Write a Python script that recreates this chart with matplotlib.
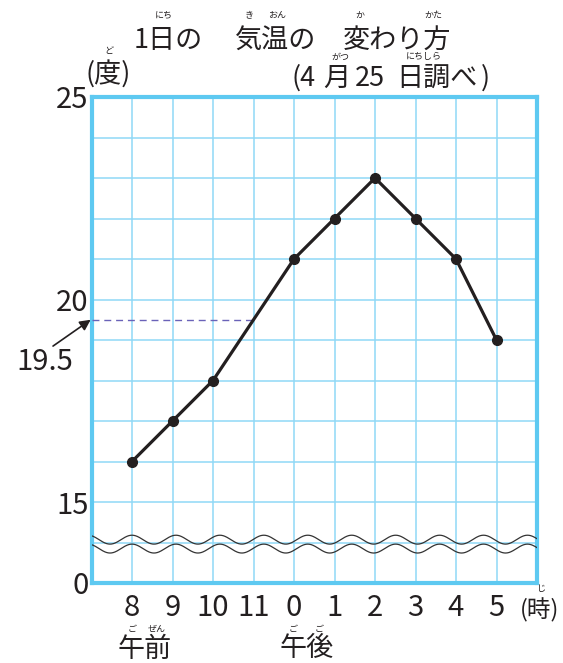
import numpy as np
import matplotlib
matplotlib.use("Agg")
import matplotlib.pyplot as plt

plt.rcParams['font.family'] = ['Noto Sans CJK JP', 'DejaVu Sans']

W, H = 563, 663

## data (hours from 8 in the morning to 5 in the afternoon)
hour_labels = ['8', '9', '10', '11', '0', '1', '2', '3', '4', '5']
temps = [16, 17, 18, 19.5, 21, 22, 23, 22, 21, 19]
measured = [True, True, True, False, True, True, True, True, True, True]

y_ticks = [13, 15, 20, 25]          # 13 stands for the broken-axis "0"
y_tick_labels = ['0', '15', '20', '25']
read_value = 19.5
read_hour = 3

ink = '#231f20'
grid_c = '#8fd9f6'
frame_c = '#5ec9f1'

def fx(px):
    return px / W

def fy(py):
    return 1 - py / H

fig = plt.figure(figsize=(W / 100, H / 100), dpi=100)
ax = fig.add_axes([fx(91.5), fy(583), (537 - 91.5) / W, (583 - 97) / H])

xs = np.arange(len(hour_labels))
ax.set_xlim(-1, len(hour_labels))
ax.set_ylim(13, 25)

ax.set_xticks(xs, hour_labels)
ax.set_yticks(y_ticks, y_tick_labels)
ax.set_yticks(np.arange(14, 25), minor=True)
# grid: major + minor (minor ticks that sit on a major tick are dropped)
ax.grid(which='both', color=grid_c, linewidth=1.1)
ax.set_axisbelow(True)

ax.tick_params(which='both', length=0)
ax.tick_params(axis='y', pad=2, labelsize=21, labelcolor=ink)
ax.tick_params(axis='x', pad=7, labelsize=21, labelcolor=ink)
for s in ax.spines.values():
    s.set_color(frame_c)
    s.set_linewidth(3)

# broken-axis wave marks
wx = np.linspace(-1, len(hour_labels), 800)
wave = 0.11 * np.cos(2 * np.pi * wx / 1.085)
ax.plot(wx, 14.07 + wave, color='#333333', lw=0.9, zorder=3)
ax.plot(wx, 13.85 + wave, color='#333333', lw=0.9, zorder=3)

# temperature line
ax.plot(xs, temps, color=ink, lw=2.3, zorder=4, solid_capstyle='round')
mx = [x for x, m in zip(xs, measured) if m]
my = [t for t, m in zip(temps, measured) if m]
ax.plot(mx, my, 'o', color=ink, ms=7, zorder=5)

# reading at 11 o'clock
ax.plot([-1, read_hour], [read_value, read_value], color='#6a62b8', lw=1,
        dashes=(5, 3.5), zorder=3)
ax.annotate('', xy=(-1.02, read_value), xytext=(-1.95, 18.85),
            arrowprops=dict(arrowstyle='-|>', color=ink, lw=1.2,
                            mutation_scale=16, shrinkA=0, shrinkB=0),
            annotation_clip=False)
fig.text(fx(45), fy(362), str(read_value), fontsize=21, color=ink,
         ha='center', va='center')

def txt(x, y, s, size=19.5, ha='left'):
    fig.text(fx(x), fy(y), s, fontsize=size, color=ink, ha=ha, va='center')

def ruby(x, y, s):
    fig.text(fx(x), fy(y), s, fontsize=6.5, color=ink, ha='center', va='center')

# title with furigana
txt(134, 40, '1日の')
txt(235, 40, '気温の')
txt(343, 40, '変わり方')
ruby(164, 15, 'にち')
ruby(249, 15, 'き')
ruby(277, 15, 'おん')
ruby(360, 15, 'か')
ruby(433, 15, 'かた')

txt(85, 74, '(度)')
ruby(109, 52, 'ど')

# (4月25日調べ) placed piece by piece to keep the wide spacing
txt(292, 78, '(4')
txt(337, 78, '月', ha='center')
txt(370, 78, '25', ha='center')
txt(396, 78, '日調べ')
txt(481, 78, ')')
ruby(340, 57, 'がつ')
ruby(424, 57, 'にちしら')

txt(540, 610, '(時)', size=17, ha='center')
ruby(541, 588, 'じ')

txt(118, 649, '午前')
ruby(132, 629, 'ご')
ruby(157, 629, 'ぜん')
txt(280, 649, '午後')
ruby(293, 629, 'ご')
ruby(319, 629, 'ご')

fig.savefig('out.png', dpi=100)
